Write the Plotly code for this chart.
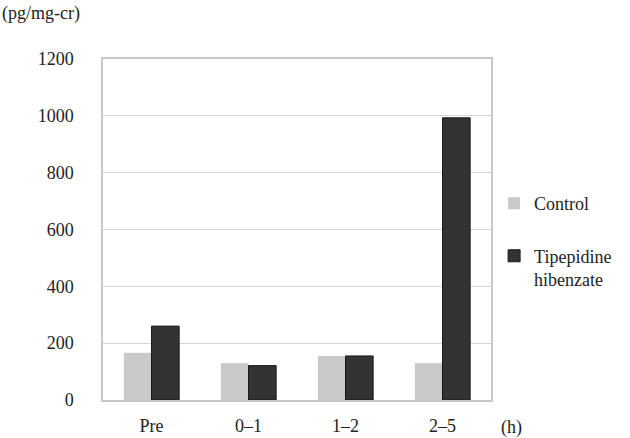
import plotly.graph_objects as go

categories = ["Pre", "0\u20131", "1\u20132", "2\u20135"]
control = [166, 129, 155, 129]
tipepidine = [260, 121, 155, 993]
y_ticks = [0, 200, 400, 600, 800, 1000, 1200]

FONT = "'Liberation Serif', 'Times New Roman', Tinos, 'DejaVu Serif', 'Noto Serif', serif"

fig = go.Figure()
fig.add_trace(go.Bar(x=categories, y=control, name="Control", legendgroup="c",
                     marker=dict(color="#c9c9c9", line=dict(width=0))))
fig.add_trace(go.Bar(x=categories, y=tipepidine, name="Tipepidine<br>hibenzate",
                     legendgroup="t",
                     marker=dict(color="#333333", line=dict(color="#1a1a1a", width=1))))

fig.update_layout(
    width=630, height=438,
    margin=dict(l=103, r=139, t=59, b=38, autoexpand=False),
    paper_bgcolor="white", plot_bgcolor="white",
    barmode="group", bargap=0.43, bargroupgap=0,
    font=dict(family=FONT, size=18, color="#222222"),
    showlegend=True,
    legend=dict(x=1.008, y=0.63, xanchor="left", yanchor="top",
                font=dict(family="serif", size=18, color="#222222"),
                tracegroupgap=26, valign="top", itemwidth=30),
    xaxis=dict(showgrid=False, showline=True, linecolor="#c8c8c8", linewidth=1.5,
               mirror=True, ticks="", ticklabelstandoff=9),
    yaxis=dict(range=[0, 1200], tickvals=y_ticks, showgrid=True, gridcolor="#d3d3d3",
               gridwidth=1, showline=True, linecolor="#c8c8c8", linewidth=1.5, mirror=True,
               ticks="", ticklabelstandoff=24, zeroline=False),
    annotations=[
        dict(text="(pg/mg-cr)", x=0, y=1, xref="paper", yref="paper", xanchor="left",
             yanchor="top", xshift=-103, yshift=58, showarrow=False,
             font=dict(family=FONT, size=18)),
        dict(text="(h)", x=1, y=0, xref="paper", yref="paper", xanchor="left",
             yanchor="middle", xshift=8, yshift=-27, showarrow=False,
             font=dict(family=FONT, size=18)),
    ],
)

fig.write_html("out.html", config={"displayModeBar": False},
               post_script="document.body.style.margin='0';")
